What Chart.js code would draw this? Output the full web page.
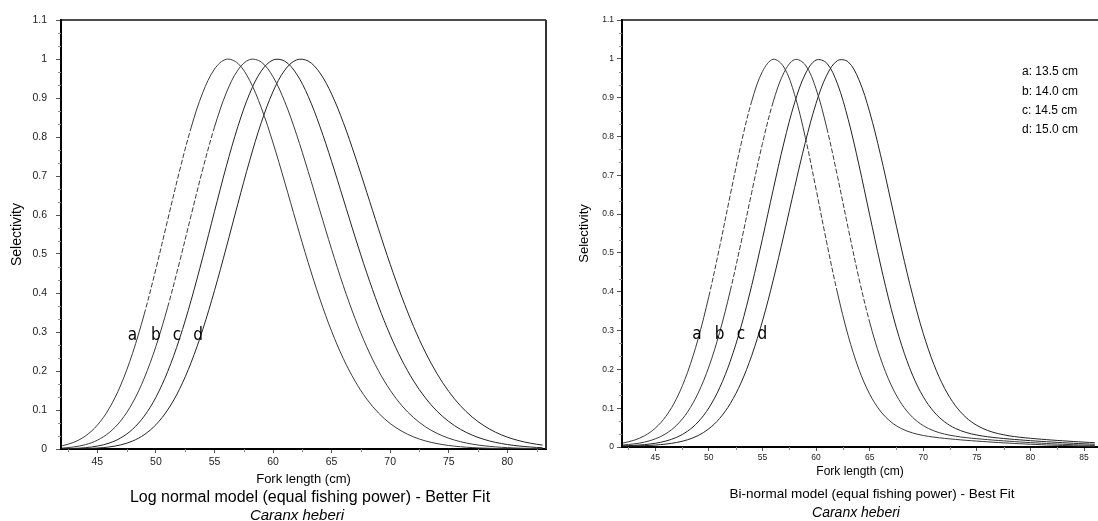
<!DOCTYPE html>
<html>
<head>
<meta charset="utf-8">
<script src="https://cdn.jsdelivr.net/npm/chart.js@4.4.1/dist/chart.umd.min.js"></script>
<style>
  body { margin: 0; background: #fff; width: 1098px; height: 521px; position: relative; overflow: hidden; font-family: "Liberation Sans", Arial, sans-serif; }
  .box { position: absolute; top: 0; height: 521px; }
  #leftBox { left: 0; width: 560px; }
  #rightBox { left: 560px; width: 538px; }
  .cap { position: absolute; white-space: nowrap; transform: translateX(-50%); color: #000; line-height: 1; }
</style>
</head>
<body>
<div class="box" id="leftBox"><canvas id="logChart"></canvas></div>
<div class="box" id="rightBox"><canvas id="binChart"></canvas></div>
<div class="cap" style="left:310px; top:489px; font-size:16px;">Log normal model (equal fishing power) - Better Fit</div>
<div class="cap" style="left:297px; top:507px; font-size:15px; font-style:italic;">Caranx heberi</div>
<div class="cap" style="left:872px; top:487px; font-size:13.5px;">Bi-normal model (equal fishing power) - Best Fit</div>
<div class="cap" style="left:856px; top:505px; font-size:14px; font-style:italic;">Caranx heberi</div>
<script>
// fork length (cm) grids
const lengthLog = [42,43,44,45,46,47,48,49,50,51,52,53,54,55,56,57,58,59,60,61,62,63,64,65,66,67,68,69,70,71,72,73,74,75,76,77,78,79,80,81,82,83];
const lengthBin = [42,43,44,45,46,47,48,49,50,51,52,53,54,55,56,57,58,59,60,61,62,63,64,65,66,67,68,69,70,71,72,73,74,75,76,77,78,79,80,81,82,83,84,85,86];

// log normal model - selectivity for mesh a..d
const logA = [0.0082,0.0173,0.0337,0.0611,0.1033,0.1639,0.2447,0.3452,0.4615,0.5866,0.7108,0.8233,0.9137,0.9740,0.9993,0.9888,0.9453,0.8748,0.7849,0.6838,0.5793,0.4780,0.3845,0.3019,0.2318,0.1741,0.1280,0.0923,0.0653,0.0454,0.0310,0.0208,0.0138,0.0090,0.0058,0.0037,0.0023,0.0014,0.0009,0.0005,0.0003,0.0002];
const logB = [0.0023,0.0053,0.0113,0.0225,0.0417,0.0723,0.1178,0.1811,0.2632,0.3632,0.4771,0.5981,0.7174,0.8252,0.9124,0.9716,0.9985,0.9920,0.9543,0.8905,0.8071,0.7116,0.6112,0.5119,0.4186,0.3346,0.2617,0.2006,0.1506,0.1110,0.0804,0.0572,0.0401,0.0276,0.0187,0.0125,0.0083,0.0054,0.0035,0.0022,0.0014,0.0009];
const logC = [0.0006,0.0015,0.0034,0.0074,0.0150,0.0284,0.0504,0.0841,0.1326,0.1981,0.2811,0.3804,0.4917,0.6087,0.7235,0.8270,0.9112,0.9694,0.9975,0.9945,0.9621,0.9044,0.8272,0.7373,0.6409,0.5441,0.4516,0.3668,0.2920,0.2278,0.1744,0.1312,0.0969,0.0705,0.0504,0.0356,0.0247,0.0169,0.0115,0.0077,0.0050,0.0033];
const logD = [0.0001,0.0004,0.0010,0.0024,0.0052,0.0106,0.0203,0.0366,0.0622,0.1000,0.1524,0.2212,0.3064,0.4059,0.5155,0.6290,0.7389,0.8373,0.9166,0.9713,0.9977,0.9948,0.9644,0.9100,0.8369,0.7510,0.6584,0.5644,0.4736,0.3893,0.3139,0.2484,0.1930,0.1475,0.1108,0.0820,0.0598,0.0429,0.0304,0.0213,0.0147,0.0100];

// bi-normal model - selectivity for mesh a..d
const binA = [0.0103,0.0172,0.0289,0.0484,0.0792,0.1255,0.1912,0.2786,0.3878,0.5144,0.6495,0.7799,0.8908,0.9673,0.9988,0.9787,0.9078,0.7977,0.6645,0.5259,0.3966,0.2865,0.1998,0.1363,0.0927,0.0644,0.0469,0.0363,0.0297,0.0254,0.0222,0.0196,0.0172,0.0152,0.0133,0.0115,0.0099,0.0084,0.0071,0.0059,0.0048,0.0039,0.0032,0.0025,0.0020];
const binB = [0.0052,0.0079,0.0126,0.0209,0.0344,0.0562,0.0897,0.1387,0.2062,0.2946,0.4025,0.5258,0.6562,0.7817,0.8888,0.9641,0.9980,0.9843,0.9226,0.8221,0.6971,0.5633,0.4347,0.3217,0.2298,0.1599,0.1102,0.0766,0.0551,0.0415,0.0332,0.0279,0.0241,0.0214,0.0190,0.0168,0.0149,0.0130,0.0113,0.0098,0.0083,0.0070,0.0059,0.0049,0.0040];
const binC = [0.0030,0.0042,0.0062,0.0096,0.0154,0.0250,0.0404,0.0645,0.1006,0.1520,0.2211,0.3096,0.4163,0.5365,0.6625,0.7834,0.8868,0.9610,0.9968,0.9887,0.9354,0.8438,0.7269,0.5982,0.4715,0.3569,0.2608,0.1852,0.1295,0.0906,0.0646,0.0479,0.0374,0.0308,0.0264,0.0232,0.0206,0.0184,0.0163,0.0145,0.0128,0.0111,0.0096,0.0082,0.0070];
const binD = [0.0020,0.0026,0.0035,0.0050,0.0076,0.0117,0.0185,0.0295,0.0469,0.0733,0.1118,0.1651,0.2356,0.3242,0.4293,0.5465,0.6683,0.7848,0.8850,0.9579,0.9954,0.9921,0.9461,0.8632,0.7541,0.6311,0.5070,0.3919,0.2924,0.2121,0.1507,0.1064,0.0758,0.0557,0.0427,0.0344,0.0289,0.0252,0.0224,0.0201,0.0179,0.0160,0.0142,0.0125,0.0110];

const curveNames = ['a', 'b', 'c', 'd'];
const meshSizes = ['a: 13.5 cm', 'b: 14.0 cm', 'c: 14.5 cm', 'd: 15.0 cm'];
const logLabelX = [48.0, 50.0, 51.8, 53.6];
const binLabelX = [48.9, 51.0, 53.0, 55.0];
const labelY = 0.29;

const xTicksLog = [45, 50, 55, 60, 65, 70, 75, 80];
const xTicksBin = [45, 50, 55, 60, 65, 70, 75, 80, 85];
const xMinor = [42.5, 47.5, 52.5, 57.5, 62.5, 67.5, 72.5, 77.5, 82.5];
const yTicks = [0, 0.1, 0.2, 0.3, 0.4, 0.5, 0.6, 0.7, 0.8, 0.9, 1, 1.1];

const FONT = '"Liberation Sans", Arial, sans-serif';
const yMinor = [];
for (let i = 1; i < 33; i++) if (i % 3) yMinor.push(i / 30);

const toPts = (xs, ys) => xs.map((x, i) => ({ x: x, y: ys[i] }));

// minor ticks, top/right frame, curve letters, mesh legend
const extras = {
  id: 'extras',
  afterDraw(chart, args, o) {
    const { ctx, chartArea: a, scales: { x, y } } = chart;
    ctx.save();
    ctx.strokeStyle = '#8a8a8a';
    ctx.lineWidth = 1;
    ctx.beginPath();
    xMinor.forEach(v => {
      const px = Math.round(x.getPixelForValue(v)) + 0.5;
      if (px < a.left || px > a.right) return;
      ctx.moveTo(px, a.bottom); ctx.lineTo(px, a.bottom + 3);
    });
    yMinor.forEach(v => {
      const py = Math.round(y.getPixelForValue(v)) + 0.5;
      ctx.moveTo(a.left - 3, py); ctx.lineTo(a.left, py);
    });
    ctx.stroke();

    ctx.strokeStyle = '#111';
    ctx.lineWidth = 1.5;
    ctx.beginPath();
    ctx.moveTo(a.left, a.top); ctx.lineTo(a.right, a.top);
    ctx.stroke();
    if (o.rightBorder) {
      ctx.strokeStyle = '#333';
      ctx.lineWidth = 2;
      ctx.beginPath();
      ctx.moveTo(a.right, a.top); ctx.lineTo(a.right, a.bottom);
      ctx.stroke();
    }

    ctx.fillStyle = '#000';
    ctx.font = '17px "Liberation Sans Narrow", "DejaVu Sans Condensed", sans-serif';
    ctx.textAlign = 'center';
    ctx.textBaseline = 'middle';
    o.labelX.forEach((v, i) => {
      ctx.fillText(curveNames[i], x.getPixelForValue(v), y.getPixelForValue(labelY));
    });

    if (o.legend) {
      ctx.font = '12px ' + FONT;
      ctx.textAlign = 'left';
      meshSizes.forEach((t, i) => ctx.fillText(t, a.left + 400, 72 + i * 19.2));
    }
    ctx.restore();
  }
};

// broken-looking stretches of the steep flanks, as in the scanned figure
function dashFor(idx, both) {
  return c => {
    if (idx > 1) return undefined;
    const y0 = c.p0.parsed.y, y1 = c.p1.parsed.y;
    const rising = y1 > y0;
    if ((rising || both) && y0 > 0.3 && y0 < 0.9 && y1 > 0.3 && y1 < 0.9) return [5, 2];
    return undefined;
  };
}

function makeChart(id, xs, series, opt) {
  return new Chart(document.getElementById(id), {
    type: 'line',
    data: {
      datasets: series.map((s, i) => ({
        label: curveNames[i],
        data: toPts(xs, s),
        borderColor: i < 2 ? '#3a3a3a' : '#222',
        borderWidth: 1,
        pointRadius: 0,
        tension: 0.35,
        fill: false,
        segment: { borderDash: dashFor(i, opt.dashBoth) }
      }))
    },
    options: {
      responsive: true,
      maintainAspectRatio: false,
      animation: false,
      layout: { padding: opt.padding },
      plugins: {
        legend: { display: false },
        tooltip: { enabled: false },
        extras: { labelX: opt.labelX, rightBorder: opt.rightBorder, legend: opt.legend }
      },
      scales: {
        x: {
          type: 'linear',
          min: 41.9,
          max: opt.xMax,
          afterBuildTicks: s => { s.ticks = opt.xTicks.map(v => ({ value: v })); },
          afterFit: s => { s.height = opt.xHeight; },
          grid: { drawOnChartArea: false, tickLength: 4, tickColor: '#555' },
          border: { display: true, color: '#000', width: 2 },
          ticks: { color: '#222', font: { size: opt.tickSize, family: FONT }, padding: opt.xPad, maxRotation: 0 },
          title: { display: true, text: 'Fork length (cm)', color: '#000', font: { size: opt.xTitleSize, family: FONT }, padding: { top: 0, bottom: opt.xTitlePad } }
        },
        y: {
          min: 0,
          max: 1.1,
          afterBuildTicks: s => { s.ticks = yTicks.map(v => ({ value: v })); },
          afterFit: s => { s.width = opt.yWidth; },
          grid: { drawOnChartArea: false, tickLength: 5, tickColor: '#555' },
          border: { display: true, color: '#000', width: 2 },
          ticks: { color: '#222', font: { size: opt.tickSize, family: FONT }, padding: opt.yPad, callback: v => String(Math.round(v * 10) / 10) },
          title: { display: true, text: 'Selectivity', color: '#000', font: { size: opt.yTitleSize, family: FONT }, padding: { top: opt.yTitlePad, bottom: 0 } }
        }
      }
    },
    plugins: [extras]
  });
}

makeChart('logChart', lengthLog, [logA, logB, logC, logD], {
  padding: { left: 0, top: 20, right: 14, bottom: 30 },
  xMax: 83.3, xTicks: xTicksLog, xHeight: 42, xPad: 3, xTitleSize: 13, xTitlePad: 4,
  yWidth: 61, yPad: 9, yTitleSize: 14, yTitlePad: 9, tickSize: 10.5,
  labelX: logLabelX, rightBorder: true, legend: false, dashBoth: false
});

makeChart('binChart', lengthBin, [binA, binB, binC, binD], {
  padding: { left: 0, top: 20, right: 0, bottom: 37 },
  xMax: 86.3, xTicks: xTicksBin, xHeight: 37, xPad: 2, xTitleSize: 12, xTitlePad: 5,
  yWidth: 62, yPad: 3, yTitleSize: 13, yTitlePad: 17, tickSize: 8.5,
  labelX: binLabelX, rightBorder: false, legend: true, dashBoth: true
});
</script>
</body>
</html>
